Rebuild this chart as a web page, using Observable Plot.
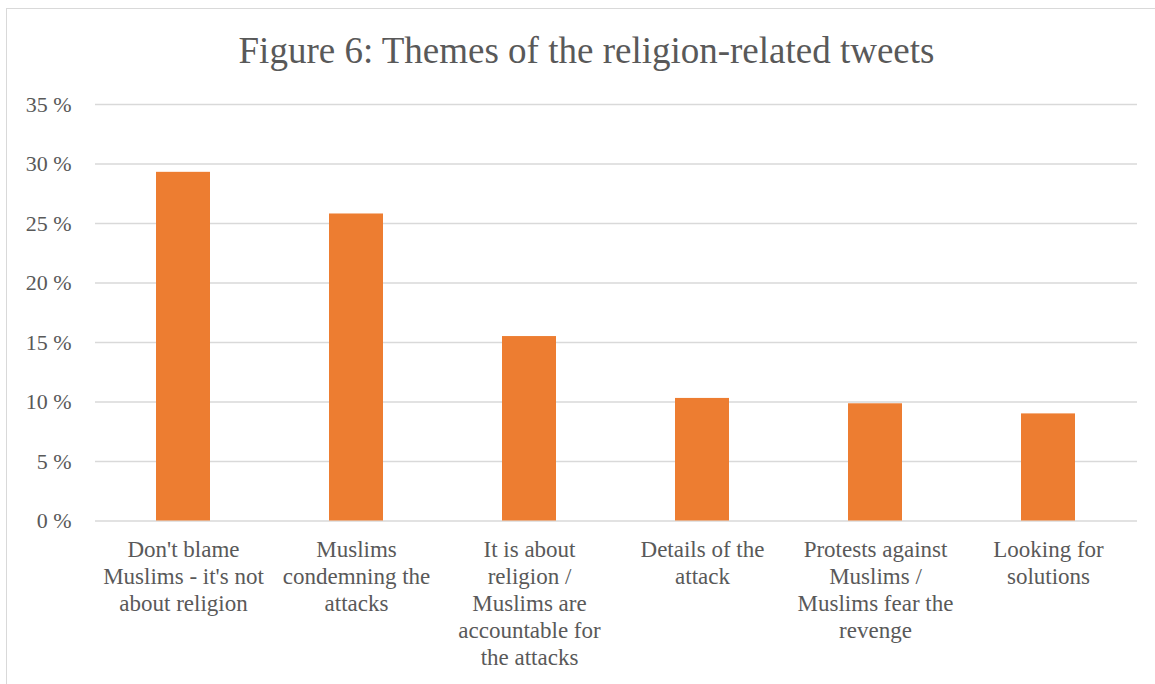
<!DOCTYPE html>
<html>
<head>
<meta charset="utf-8">
<script src="https://cdn.jsdelivr.net/npm/d3@7"></script>
<script src="https://cdn.jsdelivr.net/npm/@observablehq/plot@0.6"></script>
<style>
  html, body { margin: 0; padding: 0; background: #fff; overflow: hidden; }
  #wrap { position: relative; width: 1155px; height: 684px; }
  #frame { position: absolute; left: 6px; top: 8px; width: 1160px; height: 700px; border: 1px solid #d9d9d9; box-sizing: border-box; pointer-events: none; }
  #title { height: 48px; padding-top: 32px; width: 1173px; text-align: center; font-family: "Liberation Serif", serif; font-size: 37px; line-height: 37px; color: #595959; }
  #chart svg { display: block; }
  #chart svg, #chart svg text { font-family: "Liberation Serif", serif !important; }
</style>
</head>
<body>
<div id="wrap">
  <div id="frame"></div>
  <div id="title">Figure 6: Themes of the religion-related tweets</div>
  <div id="chart"></div>
</div>
<script>
const categories = [
  "Don't blame Muslims - it's not about religion",
  "Muslims condemning the attacks",
  "It is about religion / Muslims are accountable for the attacks",
  "Details of the attack",
  "Protests against Muslims / Muslims fear the revenge",
  "Looking for solutions"
];
const tickLabels = [
  "Don't blame\nMuslims - it's not\nabout religion",
  "Muslims\ncondemning the\nattacks",
  "It is about\nreligion /\nMuslims are\naccountable for\nthe attacks",
  "Details of the\nattack",
  "Protests against\nMuslims /\nMuslims fear the\nrevenge",
  "Looking for\nsolutions"
];
const values = [29.3, 25.8, 15.5, 10.3, 9.85, 9.0];
const yTicks = [0, 5, 10, 15, 20, 25, 30, 35];

const data = categories.map((c, i) => ({category: c, value: values[i]}));
const font = "Liberation Serif, serif";

const chart = Plot.plot({
  width: 1155,
  height: 604,
  marginLeft: 95,
  marginRight: 18,
  marginTop: 24,
  marginBottom: 163.5,
  style: {color: "#595959", background: "white", overflow: "visible"},
  x: {domain: categories, paddingInner: 0.686, paddingOuter: 0.343},
  y: {domain: [0, 35]},
  marks: [
    Plot.gridY(yTicks, {stroke: "#d9d9d9", strokeOpacity: 1, strokeWidth: 1.3}),
    Plot.barY(data, {x: "category", y: "value", fill: "#ED7D31"}),
    Plot.axisY(yTicks, {tickSize: 0, tickPadding: 24, fontSize: 22, fontFamily: font, fill: "#595959", tickFormat: d => d + " %", label: null}),
    Plot.axisX({tickSize: 0, tickPadding: 17, fontSize: 23, fontFamily: font, lineHeight: 1.17, fill: "#595959", label: null,
      tickFormat: d => tickLabels[categories.indexOf(d)]})
  ]
});
document.getElementById("chart").appendChild(chart);
</script>
</body>
</html>
